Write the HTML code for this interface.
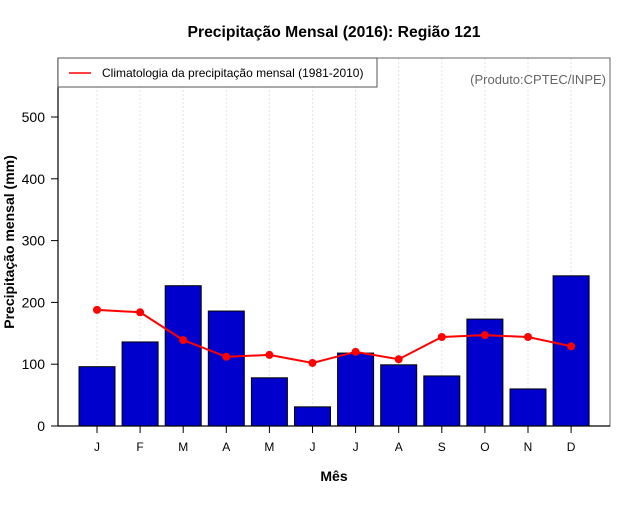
<!DOCTYPE html>
<html><head><meta charset="utf-8"><style>
body{margin:0;background:#fff;}
svg text{font-family:"Liberation Sans",sans-serif;}
</style></head><body>
<svg id="chart" width="640" height="500" xmlns="http://www.w3.org/2000/svg">
<text x="334" y="37" text-anchor="middle" font-size="15.7" font-weight="bold">Precipitação Mensal (2016): Região 121</text>
<g id="grid"></g>
<g id="bars"></g>
<g id="line"></g>
<rect x="58" y="58" width="552" height="368" fill="none" stroke="#666" stroke-width="1"/>
<line x1="58" y1="58" x2="58" y2="426" stroke="#000" stroke-width="1.2"/>
<line x1="58" y1="426" x2="610" y2="426" stroke="#000" stroke-width="1.2"/>
<g id="yaxis"></g>
<g id="xaxis"></g>
<text transform="translate(14,242) rotate(-90)" text-anchor="middle" font-size="14" font-weight="bold">Precipitação mensal (mm)</text>
<text x="334" y="481" text-anchor="middle" font-size="14" font-weight="bold">Mês</text>
<g>
<rect x="58" y="58" width="319" height="29" fill="#fff" stroke="#555"/>
<line x1="69" y1="73" x2="91" y2="73" stroke="#f00" stroke-width="1.5"/>
<text x="102" y="77" font-size="12">Climatologia da precipitação mensal (1981-2010)</text>
</g>
<text x="606" y="84" text-anchor="end" font-size="13" fill="#666">(Produto:CPTEC/INPE)</text>
</svg>
<script>
const months=["J","F","M","A","M","J","J","A","S","O","N","D"];
const precip=[96,136,227,186,78,31,118,99,81,173,60,243];
const clim=[188,184,139,112,115,102,120,108,144,147,144,129];
const yTicks=[0,100,200,300,400,500];
const NS="http://www.w3.org/2000/svg";
function x(i){return 97+i*43.1;}
function y(v){return 426-v*0.618;}
function mk(t,a,p){const e=document.createElementNS(NS,t);for(const k in a)e.setAttribute(k,a[k]);p.appendChild(e);return e;}
const g=document.getElementById('grid'),b=document.getElementById('bars'),l=document.getElementById('line'),ya=document.getElementById('yaxis'),xa=document.getElementById('xaxis');
months.forEach((m,i)=>{
 const gl=mk('line',{x1:x(i),x2:x(i),y1:58,y2:426,stroke:'#e4e4e4','stroke-dasharray':'2,2'},g);
 
 
 const r=mk('rect',{x:x(i)-18,y:y(precip[i]),width:36,height:precip[i]*0.618,fill:'#0000cd',stroke:'#000','stroke-width':1},b);
 
 
 mk('line',{x1:x(i),x2:x(i),y1:426,y2:433,stroke:'#000'},xa);
 const tx=mk('text',{x:x(i),y:451,'text-anchor':'middle','font-size':12},xa);
 tx.textContent=m;
 
 
});
const pts=clim.map((v,i)=>x(i)+','+y(v)).join(' ');
const pl=mk('polyline',{points:pts,fill:'none',stroke:'#f00','stroke-width':2},l);


clim.forEach((v,i)=>{
 const c=mk('circle',{cx:x(i),cy:y(v),r:4,fill:'#f00'},l);
 
 
});
yTicks.forEach(v=>{
 mk('line',{x1:51,x2:58,y1:y(v),y2:y(v),stroke:'#000'},ya);
 const t=mk('text',{x:45,y:y(v)+5,'text-anchor':'end','font-size':14},ya);
 t.textContent=v;
 
 
});
</script>
</body></html>
